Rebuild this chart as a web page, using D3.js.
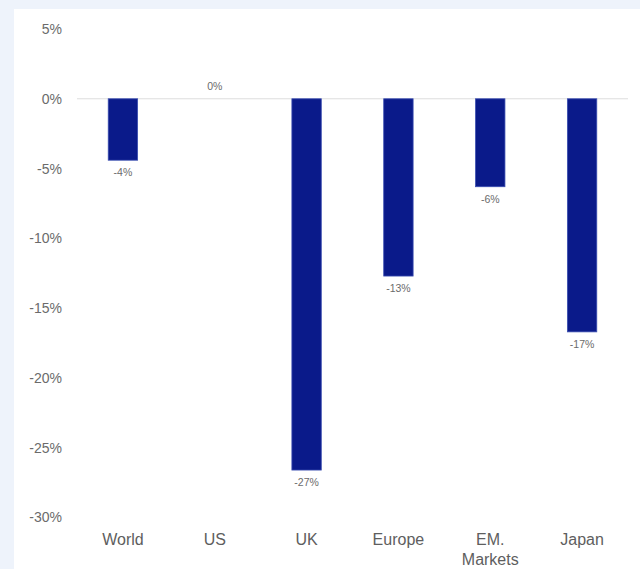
<!DOCTYPE html>
<html>
<head>
<meta charset="utf-8">
<script src="https://cdn.jsdelivr.net/npm/d3@7"></script>
<style>
  html, body { margin: 0; padding: 0; background: #eef3fb; }
  svg { display: block; }
</style>
</head>
<body>
<svg id="chart" width="640" height="569"></svg>
<script>
// Regional returns (%)
const categories = ["World", "US", "UK", "Europe", "EM. Markets", "Japan"];
const categoryLines = [["World"], ["US"], ["UK"], ["Europe"], ["EM.", "Markets"], ["Japan"]];
const returns = [-4.4, 0, -26.6, -12.7, -6.3, -16.7];
const yTicks = [5, 0, -5, -10, -15, -20, -25, -30];

const svg = d3.select("#chart");
const W = 640, H = 569;
const FONT = "'Liberation Sans', Arial, Helvetica, sans-serif";

// white panel
svg.append("rect").attr("x", 14).attr("y", 9).attr("width", W - 14).attr("height", H - 9).attr("fill", "#ffffff");

const y = d3.scaleLinear().domain([-30, 5]).range([517.5, 29]);
const x = d3.scaleBand().domain(categories).range([77, 628]).padding(0);
const barW = x.bandwidth() * 0.32;

// y-axis labels
const yAxis = d3.axisLeft(y).tickValues(yTicks).tickSize(0).tickPadding(0)
  .tickFormat(d => d + "%");
const gy = svg.append("g").attr("transform", "translate(62,0)").call(yAxis);
gy.select(".domain").remove();
gy.selectAll("text")
  .attr("fill", "#6b6b6b")
  .style("font-family", FONT)
  .style("font-size", "14px");

// zero line
svg.append("line")
  .attr("x1", 77).attr("x2", 628)
  .attr("y1", y(0)).attr("y2", y(0))
  .attr("stroke", "#dddddd").attr("stroke-width", 1);

// bars
const data = categories.map((c, i) => ({ c, v: returns[i], lines: categoryLines[i] }));
svg.append("g").selectAll("rect").data(data.filter(d => d.v !== 0)).join("rect")
  .attr("x", d => x(d.c) + x.bandwidth() / 2 - barW / 2)
  .attr("y", d => y(Math.max(0, d.v)))
  .attr("width", barW)
  .attr("height", d => Math.abs(y(d.v) - y(0)))
  .attr("fill", "#0a1a8a")
  .attr("stroke", "#3a4db0")
  .attr("stroke-width", 0.8);

// value labels (rounded, plain hyphen for negatives)
const fmt = v => Math.round(v) + "%";
svg.append("g").selectAll("text").data(data).join("text")
  .attr("x", d => x(d.c) + x.bandwidth() / 2)
  .attr("y", d => d.v < 0 ? y(d.v) + 16 : y(d.v) - 9)
  .attr("text-anchor", "middle")
  .attr("fill", "#6b6b6b")
  .style("font-family", FONT)
  .style("font-size", "10.5px")
  .text(d => fmt(d.v));

// category labels
const xAxis = d3.axisBottom(x).tickSize(0).tickFormat(() => "");
const gx = svg.append("g").attr("transform", "translate(0,532)").call(xAxis);
gx.select(".domain").remove();
gx.selectAll(".tick").each(function(d, i) {
  const t = d3.select(this).append("text")
    .attr("text-anchor", "middle")
    .attr("fill", "#5e5e5e")
    .style("font-family", FONT)
    .style("font-size", "16px");
  categoryLines[i].forEach((ln, j) => {
    t.append("tspan").attr("x", 0).attr("y", 13 + j * 20).text(ln);
  });
});
</script>
</body>
</html>
